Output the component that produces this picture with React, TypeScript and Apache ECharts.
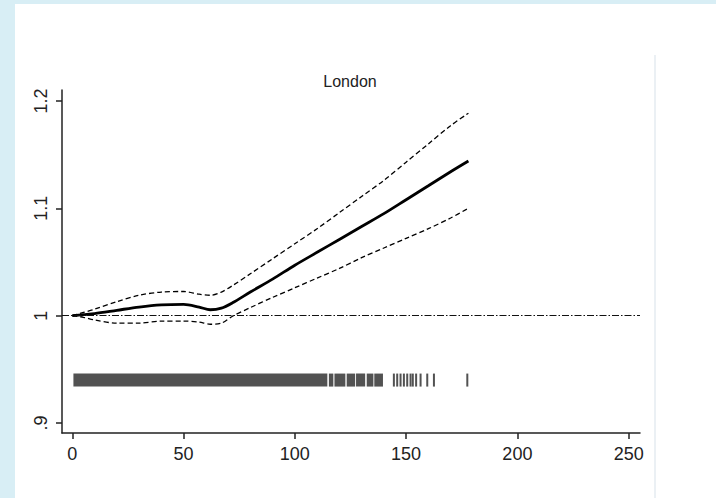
import React, { useEffect, useRef } from "react";
import * as echarts from "echarts";

// ---- data ----
const xGrid = [0, 5, 10, 20, 30, 40, 50, 57, 62, 67, 72, 80, 90, 100, 110, 120, 130, 140, 150, 160, 170, 178];
const estimate = [1.0, 1.001, 1.002, 1.005, 1.008, 1.010, 1.0105, 1.008, 1.0055, 1.007, 1.012, 1.022, 1.034, 1.047, 1.059, 1.071, 1.083, 1.095, 1.108, 1.121, 1.134, 1.144];
const upperCI = [1.0, 1.003, 1.006, 1.013, 1.019, 1.022, 1.0225, 1.020, 1.019, 1.022, 1.028, 1.039, 1.053, 1.067, 1.081, 1.096, 1.111, 1.126, 1.143, 1.160, 1.177, 1.1886];
const lowerCI = [1.0, 0.9985, 0.996, 0.993, 0.993, 0.995, 0.995, 0.994, 0.992, 0.993, 0.9995, 1.0075, 1.017, 1.026, 1.035, 1.044, 1.054, 1.063, 1.072, 1.081, 1.091, 1.100];
const refValue = 1;
const rugLevel = 0.94;
const rugBands = [[0.5, 114.6], [115.3, 117.3], [117.8, 122.7], [123.3, 127.1], [127.5, 131.6], [132.3, 135.3], [135.7, 139.6]];
const rugTicks = [144.5, 146, 147.5, 149, 150.5, 152, 153, 154.5, 156.5, 159.5, 162.5, 177.5];
const xTicks = [0, 50, 100, 150, 200, 250];
const yTicks = [0.9, 1.0, 1.1, 1.2];
const titleText = "London";

const FONT = "Liberation Sans, Arial, sans-serif";

export default function App() {
  const ref = useRef<HTMLDivElement>(null);
  useEffect(() => {
    if (!ref.current) return;
    const chart = echarts.init(ref.current, null, { renderer: "svg" });
    const pair = (ys: number[]) => xGrid.map((x, i) => [x, ys[i]]);
    const rugItems = [
      ...rugBands.map((b) => [b[0], b[1]]),
      ...rugTicks.map((t) => [t - 0.45, t + 0.45]),
    ];
    const option: any = {
      animation: false,
      backgroundColor: "#d8eef5",
      graphic: [
        { type: "rect", z: -10, silent: true, shape: { x: 15, y: 4, width: 720, height: 500 }, style: { fill: "#ffffff" } },
        { type: "line", z: -9, silent: true, shape: { x1: 655, y1: 55, x2: 655, y2: 498 }, style: { stroke: "#e4ebf0", lineWidth: 1.5 } },
        {
          type: "text", x: 350, y: 81, silent: true,
          style: { text: titleText, fontSize: 16, fontFamily: FONT, fill: "#222", align: "center", verticalAlign: "middle" },
        },
      ],
      grid: { left: 62, right: 76, top: 90, bottom: 65, containLabel: false, outerBoundsMode: "none" },
      xAxis: {
        type: "value",
        min: -4.63,
        max: 255.1,
        splitLine: { show: false },
        axisLine: { show: true, onZero: false, lineStyle: { color: "#222", width: 1.5 } },
        axisTick: { show: true, length: 6, customValues: xTicks, lineStyle: { color: "#222", width: 1.5 } },
        axisLabel: { customValues: xTicks, fontSize: 18, fontFamily: FONT, color: "#222", margin: 12 },
      },
      yAxis: {
        type: "value",
        min: 0.8907,
        max: 1.2102,
        splitLine: { show: false },
        axisLine: { show: true, onZero: false, lineStyle: { color: "#222", width: 1.5 } },
        axisTick: { show: true, length: 6, customValues: yTicks, lineStyle: { color: "#222", width: 1.5 } },
        axisLabel: {
          customValues: yTicks,
          rotate: 90,
          fontSize: 18,
          fontFamily: FONT,
          color: "#222",
          margin: 12,
          formatter: (v: number) => (Math.abs(v - 1) < 1e-9 ? "1" : v.toFixed(1).replace(/^0/, "")),
        },
      },
      series: [
        {
          type: "line",
          data: [],
          silent: true,
          markLine: {
            silent: true,
            symbol: "none",
            label: { show: false },
            lineStyle: { color: "#111", width: 1.2, type: [7, 2, 1.5, 2] },
            data: [{ yAxis: refValue }],
          },
        },
        {
          type: "custom",
          silent: true,
          data: rugItems,
          renderItem: (params: any, api: any) => {
            const p0 = api.coord([api.value(0), rugLevel]);
            const p1 = api.coord([api.value(1), rugLevel]);
            return {
              type: "rect",
              shape: { x: p0[0], y: p0[1] - 6.5, width: Math.max(p1[0] - p0[0], 1.5), height: 13 },
              style: { fill: "#525252" },
            };
          },
        },
        {
          type: "line", data: pair(upperCI), showSymbol: false, smooth: 0.3, silent: true,
          lineStyle: { color: "#000", width: 1.3, type: [5, 3] },
        },
        {
          type: "line", data: pair(lowerCI), showSymbol: false, smooth: 0.3, silent: true,
          lineStyle: { color: "#000", width: 1.3, type: [5, 3] },
        },
        {
          type: "line", data: pair(estimate), showSymbol: false, smooth: 0.3, silent: true,
          lineStyle: { color: "#000", width: 2.8 },
        },
      ],
    };
    chart.setOption(option);
    return () => chart.dispose();
  }, []);
  return <div ref={ref} style={{ position: "fixed", left: 0, top: 0, width: 716, height: 498 }} />;
}
